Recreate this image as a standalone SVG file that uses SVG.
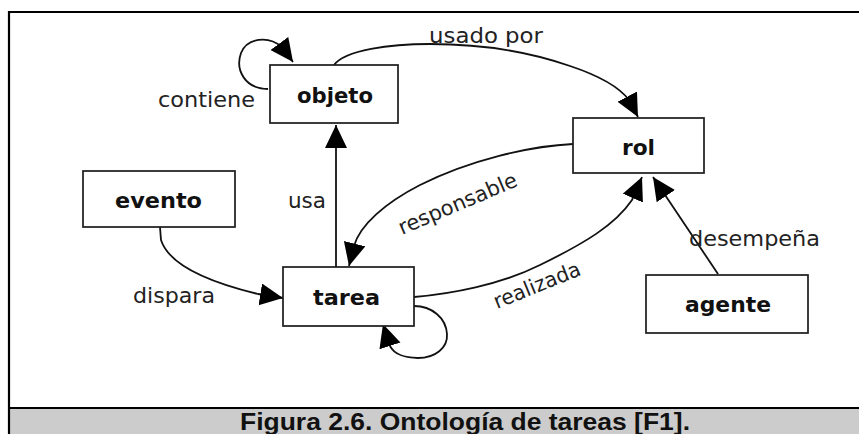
<svg xmlns="http://www.w3.org/2000/svg" width="859" height="434" viewBox="0 0 859 434">
<style>
.box{fill:#fff;stroke:#1a1a1a;stroke-width:1.7}
.nl{font-family:"DejaVu Sans",Verdana,sans-serif;font-weight:bold;font-size:21px;fill:#111}
.el{font-family:"DejaVu Sans",Verdana,sans-serif;font-size:21px;fill:#222}
.cn{fill:none;stroke:#111;stroke-width:1.8;marker-end:url(#ah)}
.cap{font-family:"Liberation Sans",Arial,sans-serif;font-weight:bold;font-size:24px;fill:#111}
</style>
<defs>
<marker id="ah" markerUnits="userSpaceOnUse" markerWidth="24" markerHeight="24" viewBox="0 0 24 24" refX="23" refY="11" orient="auto">
<path d="M0,0 L23,11 L0,22 Z" fill="#000"/>
</marker>
</defs>
<rect x="0" y="0" width="859" height="434" fill="#fff"/>
<rect x="9" y="408" width="852" height="30" fill="#cccccc"/>
<path d="M9,434 L9,12 L861,12 M9,408 L861,408" fill="none" stroke="#000" stroke-width="2.2"/>
<text class="cap" x="240" y="430" textLength="450" lengthAdjust="spacingAndGlyphs">Figura 2.6. Ontología de tareas [F1].</text>

<g id="connectors">
<path class="cn" d="M268,89 C245,89 235,70 241,53 C247,38 268,35 282,47 L293,62"/>
<path class="cn" d="M334,65 C345,50 390,44 430,44 C480,44 530,52 570,66 C600,76 620,88 629,100 L638,117"/>
<path class="cn" d="M336,267 L336,125"/>
<path class="cn" d="M573,144 C530,146 470,160 420,185 C385,203 360,225 354,246 L349,266"/>
<path class="cn" d="M414,297 C450,294 500,285 540,265 C585,243 615,225 632,200 L642,177"/>
<path class="cn" d="M718,274 L653,177"/>
<path class="cn" d="M160,227 L161,240 C168,262 200,280 258,294 L283,298"/>
<path class="cn" d="M414,306 C432,306 446,318 447,334 C448,348 435,358 418,358 C405,358 394,354 390,346 L383,324"/>
<text class="el" x="158" y="107" textLength="97" lengthAdjust="spacingAndGlyphs">contiene</text>
<text class="el" x="429" y="43" textLength="114" lengthAdjust="spacingAndGlyphs">usado por</text>
<text class="el" x="288" y="208" textLength="38" lengthAdjust="spacingAndGlyphs">usa</text>
<text class="el" x="133" y="303" textLength="82" lengthAdjust="spacingAndGlyphs">dispara</text>
<text class="el" x="689" y="246" textLength="131" lengthAdjust="spacingAndGlyphs">desempeña</text>
<text class="el" transform="translate(402,235) rotate(-23)" textLength="127" lengthAdjust="spacingAndGlyphs">responsable</text>
<text class="el" transform="translate(497,309) rotate(-22)" textLength="92" lengthAdjust="spacingAndGlyphs">realizada</text>
</g>

<g id="objeto">
<rect class="box" x="270" y="65" width="128" height="58"/>
<text class="nl" x="297" y="103" textLength="76" lengthAdjust="spacingAndGlyphs">objeto</text>
</g>
<g id="rol">
<rect class="box" x="573" y="118" width="131" height="55"/>
<text class="nl" x="622" y="155" textLength="33" lengthAdjust="spacingAndGlyphs">rol</text>
</g>
<g id="evento">
<rect class="box" x="83" y="171" width="152" height="56"/>
<text class="nl" x="115" y="208" textLength="87" lengthAdjust="spacingAndGlyphs">evento</text>
</g>
<g id="tarea">
<rect class="box" x="283" y="267" width="131" height="59"/>
<text class="nl" x="313" y="305" textLength="67" lengthAdjust="spacingAndGlyphs">tarea</text>
</g>
<g id="agente">
<rect class="box" x="646" y="275" width="162" height="58"/>
<text class="nl" x="685" y="312" textLength="86" lengthAdjust="spacingAndGlyphs">agente</text>
</g>
</svg>
